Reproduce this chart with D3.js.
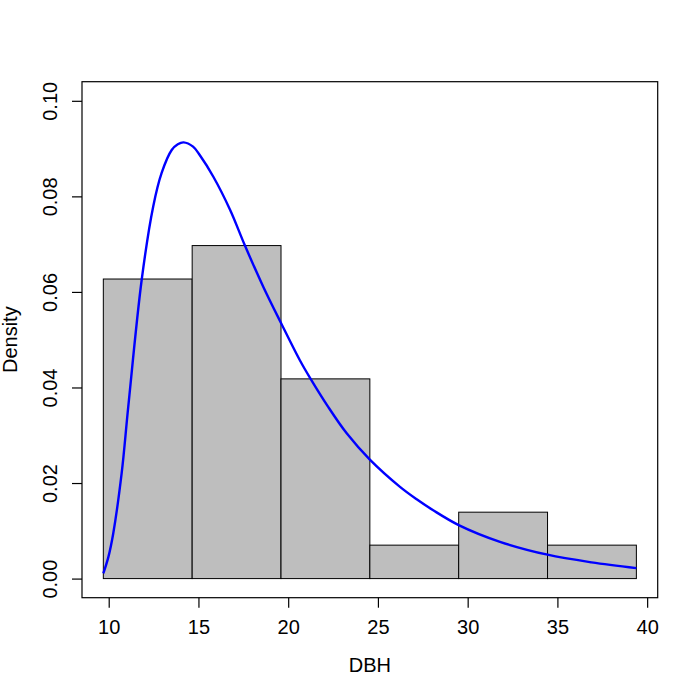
<!DOCTYPE html>
<html>
<head>
<meta charset="utf-8">
<script src="https://cdn.jsdelivr.net/npm/d3@7"></script>
<style>
  html, body { margin: 0; padding: 0; background: #fff; }
  svg text { font-family: "Liberation Sans", Arial, Helvetica, sans-serif; }
</style>
</head>
<body>
<svg id="chart" width="700" height="700"></svg>
<script>
// Histogram bins (DBH) and densities
const binEdges = [9.7, 14.65, 19.6, 24.55, 29.5, 34.45, 39.4];
const binDensity = [0.0627, 0.0697, 0.0418, 0.0070, 0.0139, 0.0070];

// Fitted density curve
const curveX = [9.7, 9.98, 10.25, 10.72, 11.09, 11.84, 12.48, 12.95, 13.51, 13.85, 14.17, 14.7, 15.08, 15.83, 16.76, 17.59, 18.61, 19.6, 20.65, 21.25, 22.2, 23.26, 24.55, 26.23, 27.16, 28.08, 29.5, 31.8, 34.45, 36.9, 39.4];
const curveY = [0.0011, 0.0045, 0.0094, 0.0220, 0.0360, 0.0626, 0.0779, 0.0849, 0.0897, 0.0909, 0.0913, 0.0904, 0.0886, 0.0841, 0.0772, 0.0697, 0.0611, 0.0535, 0.0457, 0.0418, 0.0361, 0.0304, 0.0249, 0.0192, 0.0166, 0.0143, 0.0112, 0.0077, 0.0050, 0.0034, 0.0022];

// Axis ticks
const xTicks = [10, 15, 20, 25, 30, 35, 40];
const yTicks = [0.00, 0.02, 0.04, 0.06, 0.08, 0.10];
const yTickLabels = ["0.00", "0.02", "0.04", "0.06", "0.08", "0.10"];
const xLabel = "DBH";
const yLabel = "Density";

const svg = d3.select("#chart");
const pLeft = 82, pRight = 657.7, pTop = 81.7, pBottom = 597.7;

// R-style 4% extended limits
const xlim = [9.7, 39.4], ylim = [0, 0.1];
const xe = (xlim[1] - xlim[0]) * 0.04, ye = (ylim[1] - ylim[0]) * 0.04;
const x = d3.scaleLinear().domain([xlim[0] - xe, xlim[1] + xe]).range([pLeft, pRight]);
const y = d3.scaleLinear().domain([ylim[0] - ye, ylim[1] + ye]).range([pBottom, pTop]);

// Bars
const bins = binDensity.map((d, i) => ({x0: binEdges[i], x1: binEdges[i + 1], d}));
svg.append("g").selectAll("rect").data(bins).join("rect")
  .attr("x", b => x(b.x0))
  .attr("y", b => y(b.d))
  .attr("width", b => x(b.x1) - x(b.x0))
  .attr("height", b => y(0) - y(b.d))
  .attr("fill", "#bebebe")
  .attr("stroke", "#000")
  .attr("stroke-width", 1);

// Curve
const pts = curveX.map((v, i) => [v, curveY[i]]);
svg.append("path")
  .datum(pts)
  .attr("fill", "none")
  .attr("stroke", "#0000ff")
  .attr("stroke-width", 2.4)
  .attr("d", d3.line().x(p => x(p[0])).y(p => y(p[1])).curve(d3.curveCatmullRom.alpha(0.5)));

// Box
svg.append("rect")
  .attr("x", pLeft).attr("y", pTop)
  .attr("width", pRight - pLeft).attr("height", pBottom - pTop)
  .attr("fill", "none").attr("stroke", "#000").attr("stroke-width", 1.2);

// X axis
const xAxis = svg.append("g").attr("transform", `translate(0,${pBottom})`)
  .call(d3.axisBottom(x).tickValues(xTicks).tickSize(10).tickSizeOuter(0).tickFormat(d3.format("d")));
xAxis.select(".domain").remove();
xAxis.selectAll(".tick line").attr("stroke", "#000").attr("stroke-width", 1.2);
xAxis.selectAll(".tick text")
  .attr("y", 36.5).attr("dy", 0)
  .attr("fill", "#000")
  .style("font-size", "20px");

// Y axis
const yAxis = svg.append("g").attr("transform", `translate(${pLeft},0)`)
  .call(d3.axisLeft(y).tickValues(yTicks).tickSize(10).tickSizeOuter(0).tickFormat((d, i) => yTickLabels[i]));
yAxis.select(".domain").remove();
yAxis.selectAll(".tick line").attr("stroke", "#000").attr("stroke-width", 1.2);
yAxis.selectAll(".tick text")
  .attr("transform", "rotate(-90)")
  .attr("x", 0).attr("y", -25.3).attr("dy", 0)
  .attr("text-anchor", "middle")
  .attr("fill", "#000")
  .style("font-size", "20px");

// Axis titles
svg.append("text")
  .attr("x", (pLeft + pRight) / 2).attr("y", 672)
  .attr("text-anchor", "middle")
  .style("font-size", "20px")
  .text(xLabel);
svg.append("text")
  .attr("transform", `translate(17,${(pTop + pBottom) / 2}) rotate(-90)`)
  .attr("text-anchor", "middle")
  .style("font-size", "20px")
  .text(yLabel);
</script>
</body>
</html>
